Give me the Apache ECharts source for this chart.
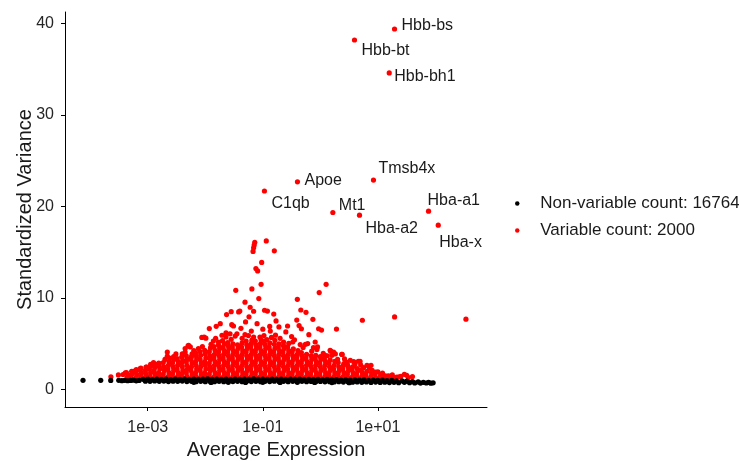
<!DOCTYPE html>
<html><head><meta charset="utf-8">
<script src="https://cdn.jsdelivr.net/npm/echarts@6/dist/echarts.min.js"></script>
<style>html,body{margin:0;padding:0;background:#fff}#c{width:739px;height:461px}</style>
</head><body><div id="c"></div>
<script>
// x values are log10(Average Expression); y values are Standardized Variance
const xTickValues = [-3, -1, 1];
const xTickLabels = ['1e-03', '1e-01', '1e+01'];
const yTickValues = [0, 10, 20, 30, 40];
const nonVariableCount = 16764;
const variableCount = 2000;

const labeledGenes = ['Hbb-bs', 'Hbb-bt', 'Hbb-bh1', 'Tmsb4x', 'Apoe', 'C1qb', 'Mt1', 'Hba-a2', 'Hba-a1', 'Hba-x'];
const labeledLog10Expr = [1.289, 0.593, 1.197, 0.923, -0.398, -0.972, 0.217, 0.680, 1.880, 2.049];
const labeledStdVar = [39.4, 38.2, 34.6, 22.9, 22.7, 21.7, 19.35, 19.06, 19.5, 17.97];

const variableOutliers = [
[-1.14,16.1],[-1.15,15.8],[-1.16,15.5],[-1.17,15.1],[-0.94,16.25],[-0.80,15.16],[-1.02,13.9],[-1.12,13.23],[-1.09,12.97],
[0.10,11.5],[-0.02,10.6],[-1.47,10.85],[-1.19,11.0],[-1.03,11.5],[-1.07,9.95],[-0.40,9.87],[-1.31,9.55],[-1.22,9.0],
[-1.55,8.52],[-1.42,8.49],[-1.40,8.58],[-0.97,8.67],[-0.92,8.58],[-1.16,8.56],[-0.34,8.7],[-0.25,8.45],[-1.24,7.95],[-1.63,8.2],
[-1.54,7.1],[-1.51,6.95],[-1.74,7.2],[-0.81,8.25],[-0.77,7.5],[-0.72,6.85],[-0.88,6.9],[-0.87,6.4],[-0.57,6.95],[-0.41,7.6],
[-0.37,7.0],[-0.33,6.65],[-0.13,7.68],[-0.03,6.65],[0.02,6.5],[0.28,6.62],[0.73,7.58],[1.29,7.94],[2.53,7.7],
[-1.93,6.67],[-1.81,6.92],[-2.02,5.75],[-2.06,5.7],[-1.99,5.62],[-2.30,4.77],[-2.26,4.66],[-2.66,4.1],[-2.66,3.65],[-2.51,3.9],
[-2.80,2.85],[-2.95,2.75],[0.26,3.9],[0.38,3.85],[0.18,4.2],[0.23,4.1],[0.66,3.1],[0.81,2.65],[0.88,2.65],
[1.46,1.67],[1.50,1.56],[1.18,1.5],[1.13,1.5]
];

const variableFringe = [
[-1.64,5.75],[-1.57,6.1],[-1.45,6.1],[-1.31,6.0],[-1.16,5.75],[-1.05,5.75],[-0.93,5.47],[-0.79,5.39],[-0.64,5.2],[-0.48,5.2],
[-0.35,4.92],[-0.22,5.03],[-0.09,5.2],[-1.71,5.94],[-1.64,6.19],[-1.86,5.3],[-1.77,5.2],[-2.29,4.84],[-2.35,4.48],[-2.12,4.48],
[-3.39,1.82],[-3.25,2.0],[-3.13,2.3],[-3.02,2.47],[-0.05,4.66],[-0.06,4.37],[0.17,4.3],[0.37,3.86],[0.08,3.75],
[0.52,3.2],[0.69,3.1],[0.96,1.92],[1.10,1.45],[1.33,1.38],[1.53,1.31],[-1.36,5.6],[-1.25,5.9],[-0.98,5.9],[-0.85,5.7],
[-0.70,5.6],[-0.55,5.05],[-0.30,4.6],[-0.15,4.2],[0.05,3.95],[0.12,3.7],[0.30,3.3],[0.45,3.0],[0.60,2.75],[0.75,2.4],
[0.90,2.1],[1.00,1.95],[1.25,1.6],[1.40,1.45],[1.60,1.42],[-2.90,2.95],[-2.70,3.3],[-2.55,3.6],[-2.40,3.9],[-2.20,4.25],
[-1.90,4.95],[-1.70,5.35],[-1.55,5.5],[-1.38,6.7],[-1.20,6.4],[-1.00,6.6],[-0.60,6.3],[-0.50,5.8],[-1.10,7.2],[-0.20,6.0],[-1.30,7.4],
[-2.62,3.45],[-2.35,4.1],[-2.05,4.7],[-1.82,5.6],[-1.48,5.85],[-0.78,5.95],[-0.45,5.45],[-0.26,4.95],[-0.12,4.6],[0.2,3.75],
[0.42,3.35],[0.58,3.05],[0.7,2.7],[0.85,2.35],[1.08,1.8]
];

const variableDense = [
[-3.64,1.4],[-3.51,1.6],[-3.43,1.65],
[-3.36,1.3],[-3.34,1.6],[-3.37,1.85],[-3.29,1.35],[-3.27,1.7],[-3.28,2.0],
[-3.2,1.3],[-3.19,1.65],[-3.21,1.95],[-3.2,2.2],[-3.12,1.4],[-3.11,1.8],[-3.13,2.1],[-3.12,2.35],
[-3.05,1.3],[-3.03,1.7],[-3.04,2.1],[-3.03,2.45],[-2.96,1.45],[-2.95,1.85],[-2.97,2.25],[-2.95,2.6],
[-2.88,1.3],[-2.87,1.7],[-2.89,2.05],[-2.88,2.4],[-2.87,2.75],[-2.8,1.45],[-2.81,1.85],[-2.79,2.25],[-2.8,2.55],[-2.81,2.9],
[-2.72,1.3],[-2.73,1.7],[-2.71,2.1],[-2.72,2.5],[-2.73,2.95],[-2.64,1.45],[-2.63,1.85],[-2.65,2.25],[-2.64,2.65],[-2.63,3.05],
[-2.56,1.3],[-2.57,1.7],[-2.55,2.1],[-2.56,2.5],[-2.57,2.9],[-2.55,3.25],
[-2.48,1.45],[-2.47,1.85],[-2.49,2.25],[-2.48,2.65],[-2.47,3.05],[-2.49,3.4],
[-2.4,1.3],[-2.41,1.7],[-2.39,2.1],[-2.4,2.5],[-2.41,2.9],[-2.39,3.2],[-2.41,3.55],
[-2.32,1.45],[-2.33,1.85],[-2.31,2.25],[-2.32,2.65],[-2.33,3.05],[-2.31,3.35],[-2.33,3.7],
[-2.24,1.3],[-2.23,1.7],[-2.25,2.1],[-2.24,2.5],[-2.23,2.9],[-2.25,3.3],[-2.24,3.6],[-2.23,3.9],
[-2.16,1.45],[-2.17,1.85],[-2.15,2.25],[-2.16,2.65],[-2.17,3.05],[-2.15,3.45],[-2.16,3.75],[-2.17,4.05],
[-2.08,1.3],[-2.07,1.7],[-2.09,2.1],[-2.08,2.5],[-2.07,2.9],[-2.09,3.3],[-2.08,3.75],[-2.09,4.15],
[-2,1.45],[-2.01,1.85],[-1.99,2.25],[-2,2.65],[-2.01,3.05],[-1.99,3.45],[-2,3.9],[-2.01,4.3],
[-1.92,1.3],[-1.93,1.7],[-1.91,2.1],[-1.92,2.5],[-1.93,2.9],[-1.91,3.3],[-1.92,3.7],[-1.93,4.15],[-1.91,4.55],
[-1.84,1.45],[-1.83,1.85],[-1.85,2.25],[-1.84,2.65],[-1.83,3.05],[-1.85,3.45],[-1.84,3.85],[-1.83,4.3],[-1.85,4.7],
[-1.76,1.3],[-1.77,1.7],[-1.75,2.1],[-1.76,2.5],[-1.77,2.9],[-1.75,3.3],[-1.76,3.7],[-1.77,4.1],[-1.75,4.5],[-1.77,4.85],
[-1.68,1.45],[-1.67,1.85],[-1.69,2.25],[-1.68,2.65],[-1.67,3.05],[-1.69,3.45],[-1.68,3.85],[-1.67,4.25],[-1.69,4.65],[-1.67,5.0],
[-1.6,1.3],[-1.61,1.7],[-1.59,2.1],[-1.6,2.5],[-1.61,2.9],[-1.59,3.3],[-1.6,3.7],[-1.61,4.1],[-1.59,4.5],[-1.6,4.8],[-1.61,5.15],
[-1.52,1.45],[-1.51,1.85],[-1.53,2.25],[-1.52,2.65],[-1.51,3.05],[-1.53,3.45],[-1.52,3.85],[-1.51,4.25],[-1.53,4.65],[-1.52,5.0],
[-1.44,1.3],[-1.45,1.7],[-1.43,2.1],[-1.44,2.5],[-1.45,2.9],[-1.43,3.3],[-1.44,3.7],[-1.45,4.1],[-1.43,4.5],[-1.44,4.9],
[-1.36,1.45],[-1.35,1.85],[-1.37,2.25],[-1.36,2.65],[-1.35,3.05],[-1.37,3.45],[-1.36,3.85],[-1.35,4.25],[-1.37,4.65],[-1.36,5.1],
[-1.28,1.3],[-1.29,1.7],[-1.27,2.1],[-1.28,2.5],[-1.29,2.9],[-1.27,3.3],[-1.28,3.7],[-1.29,4.1],[-1.27,4.5],[-1.28,4.9],[-1.29,5.3],
[-1.2,1.45],[-1.19,1.85],[-1.21,2.25],[-1.2,2.65],[-1.19,3.05],[-1.21,3.45],[-1.2,3.85],[-1.19,4.25],[-1.21,4.65],[-1.2,5.05],[-1.19,5.4],
[-1.12,1.3],[-1.13,1.7],[-1.11,2.1],[-1.12,2.5],[-1.13,2.9],[-1.11,3.3],[-1.12,3.7],[-1.13,4.1],[-1.11,4.5],[-1.12,4.9],[-1.13,5.3],
[-1.04,1.45],[-1.03,1.85],[-1.05,2.25],[-1.04,2.65],[-1.03,3.05],[-1.05,3.45],[-1.04,3.85],[-1.03,4.25],[-1.05,4.65],[-1.04,5.05],[-1.03,5.45],
[-0.96,1.3],[-0.97,1.7],[-0.95,2.1],[-0.96,2.5],[-0.97,2.9],[-0.95,3.3],[-0.96,3.7],[-0.97,4.1],[-0.95,4.5],[-0.96,4.9],[-0.97,5.3],
[-0.88,1.45],[-0.87,1.85],[-0.89,2.25],[-0.88,2.65],[-0.87,3.05],[-0.89,3.45],[-0.88,3.85],[-0.87,4.25],[-0.89,4.65],[-0.88,5.1],
[-0.8,1.3],[-0.81,1.7],[-0.79,2.1],[-0.8,2.5],[-0.81,2.9],[-0.79,3.3],[-0.8,3.7],[-0.81,4.1],[-0.79,4.5],[-0.8,4.95],
[-0.72,1.45],[-0.71,1.85],[-0.73,2.25],[-0.72,2.65],[-0.71,3.05],[-0.73,3.45],[-0.72,3.85],[-0.71,4.25],[-0.73,4.65],[-0.72,5.0],
[-0.64,1.3],[-0.65,1.7],[-0.63,2.1],[-0.64,2.5],[-0.65,2.9],[-0.63,3.3],[-0.64,3.7],[-0.65,4.1],[-0.63,4.5],[-0.64,4.8],
[-0.56,1.45],[-0.55,1.85],[-0.57,2.25],[-0.56,2.65],[-0.55,3.05],[-0.57,3.45],[-0.56,3.85],[-0.55,4.25],[-0.57,4.65],
[-0.48,1.3],[-0.49,1.7],[-0.47,2.1],[-0.48,2.5],[-0.49,2.9],[-0.47,3.3],[-0.48,3.7],[-0.49,4.1],[-0.47,4.45],
[-0.4,1.45],[-0.39,1.85],[-0.41,2.25],[-0.4,2.65],[-0.39,3.05],[-0.41,3.45],[-0.4,3.85],[-0.39,4.25],
[-0.32,1.3],[-0.33,1.7],[-0.31,2.1],[-0.32,2.5],[-0.33,2.9],[-0.31,3.3],[-0.32,3.7],[-0.33,4.05],
[-0.24,1.45],[-0.23,1.85],[-0.25,2.25],[-0.24,2.65],[-0.23,3.05],[-0.25,3.45],[-0.24,3.85],
[-0.16,1.3],[-0.17,1.7],[-0.15,2.1],[-0.16,2.5],[-0.17,2.9],[-0.15,3.3],[-0.16,3.7],
[-0.08,1.45],[-0.07,1.85],[-0.09,2.25],[-0.08,2.65],[-0.07,3.05],[-0.09,3.45],[-0.08,3.75],
[0,1.3],[-0.01,1.7],[0.01,2.1],[0,2.5],[-0.01,2.9],[0.01,3.3],[0,3.6],
[0.08,1.45],[0.09,1.85],[0.07,2.25],[0.08,2.65],[0.09,3.05],[0.07,3.4],
[0.16,1.3],[0.15,1.7],[0.17,2.1],[0.16,2.5],[0.15,2.9],[0.17,3.25],
[0.24,1.45],[0.25,1.85],[0.23,2.25],[0.24,2.65],[0.25,3.1],
[0.32,1.3],[0.31,1.7],[0.33,2.1],[0.32,2.5],[0.31,2.95],
[0.4,1.45],[0.41,1.85],[0.39,2.25],[0.4,2.65],[0.41,2.85],
[0.48,1.3],[0.47,1.7],[0.49,2.1],[0.48,2.5],[0.47,2.75],
[0.56,1.45],[0.57,1.85],[0.55,2.25],[0.56,2.5],
[0.64,1.3],[0.63,1.7],[0.65,2.05],[0.64,2.3],
[0.72,1.45],[0.73,1.85],[0.71,2.15],
[0.8,1.3],[0.79,1.65],[0.81,2.0],
[0.88,1.45],[0.89,1.85],[0.96,1.3],[0.95,1.7],
[1.04,1.45],[1.05,1.65],[1.12,1.3],[1.2,1.45],[1.28,1.3],[1.37,1.4]
];

const nonVariablePoints = [
[-4.125,1.02],[-3.817,1.02],[-3.643,1.0],[-3.504,1.02],[-3.45,0.98],[-3.4,1.02],[-3.35,0.97],[-3.3,1.0],[-3.25,1.03],[-3.2,0.96],[-3.15,1.0],
[-3.08,1.12],[-3.0,1.14],[-2.92,1.1],[-2.84,1.15],[-2.76,1.12],[-2.68,1.14],[-2.6,1.1],[-2.52,1.16],[-2.44,1.13],[-2.36,1.15],
[-2.28,1.1],[-2.2,1.16],[-2.12,1.12],[-2.04,1.14],[-1.96,1.17],[-1.88,1.11],[-1.8,1.15],[-1.72,1.13],[-1.64,1.16],[-1.56,1.1],
[-1.48,1.15],[-1.4,1.12],[-1.32,1.16],[-1.24,1.13],[-1.16,1.17],[-1.08,1.11],[-1.0,1.15],[-0.92,1.13],[-0.84,1.16],[-0.76,1.12],
[-0.68,1.15],[-0.6,1.1],[-0.52,1.14],[-0.44,1.12],[-0.36,1.15],[-0.28,1.1],[-0.2,1.13],[-0.12,1.09],[-0.04,1.12],[0.04,1.08],
[0.12,1.11],[0.2,1.06],[0.28,1.1],[0.36,1.05],[0.44,1.08],[0.52,1.04],[0.6,1.07],[0.68,1.03],[0.76,1.06],[0.84,1.02],
[0.92,1.05],[1.0,1.0],[1.08,1.03],[1.16,0.98],[1.24,1.01],[1.32,0.97],
[-3.04,0.92],[-2.96,0.9],[-2.88,0.94],[-2.8,0.9],[-2.72,0.93],[-2.64,0.88],[-2.56,0.92],[-2.48,0.9],[-2.4,0.93],[-2.32,0.88],
[-2.24,0.91],[-2.16,0.87],[-2.08,0.9],[-2.0,0.87],[-1.92,0.92],[-1.84,0.86],[-1.76,0.9],[-1.68,0.86],[-1.6,0.91],[-1.52,0.88],
[-1.44,0.9],[-1.36,0.86],[-1.28,0.92],[-1.2,0.88],[-1.12,0.91],[-1.04,0.87],[-0.96,0.9],[-0.88,0.88],[-0.8,0.92],[-0.72,0.88],
[-0.64,0.91],[-0.56,0.87],[-0.48,0.9],[-0.4,0.88],[-0.32,0.91],[-0.24,0.86],[-0.16,0.89],[-0.08,0.86],[0.0,0.89],[0.08,0.85],
[0.16,0.87],[0.24,0.83],[0.32,0.86],[0.4,0.82],[0.48,0.85],[0.56,0.81],[0.64,0.84],[0.72,0.8],[0.8,0.83],[0.88,0.79],
[0.96,0.82],[1.04,0.78],[1.12,0.81],[1.2,0.77],[1.28,0.8],[1.36,0.76],
[-2.2,0.8],[-1.9,0.78],[-1.6,0.8],[-1.3,0.78],[-1.0,0.8],[-0.7,0.79],[-0.4,0.8],[-0.1,0.78],[0.2,0.77],[0.5,0.75],
[1.42,0.95],[1.46,0.8],[1.5,0.92],[1.55,0.76],[1.6,0.88],[1.64,0.73],[1.7,0.84],[1.74,0.71],[1.79,0.8],[1.84,0.72],[1.88,0.8],[1.92,0.7],[1.96,0.74]
];

// label placement (style only)
const labelOffsets = {
  'Hbb-bs': [7, -3], 'Hbb-bt': [7, 11], 'Hbb-bh1': [5, 4], 'Tmsb4x': [5, -11], 'Apoe': [7, -1],
  'C1qb': [7, 13], 'Mt1': [6, -7], 'Hba-a2': [6, 13], 'Hba-a1': [-1, -11], 'Hba-x': [1, 17]
};

const FONT = "'Liberation Sans', Arial, sans-serif";
const TEXT = '#1a1a1a';
const nonVarName = 'Non-variable count: ' + nonVariableCount;
const varName = 'Variable count: ' + variableCount;

const labeledData = labeledGenes.map((g, i) => ({
  name: g,
  value: [labeledLog10Expr[i], labeledStdVar[i]],
  label: {
    show: true, formatter: g, position: 'inside', align: 'left', verticalAlign: 'middle',
    offset: labelOffsets[g], color: TEXT, fontSize: 16, fontFamily: FONT
  }
}));

const chart = echarts.init(document.getElementById('c'), null, {renderer: 'canvas'});
const symSize = 5.2;
chart.setOption({
  animation: false,
  backgroundColor: '#ffffff',
  grid: {left: 65, right: 252, top: 12, bottom: 54, containLabel: false, outerBoundsMode: 'none'},
  legend: {
    orient: 'vertical', left: 515, top: 195, padding: 0, icon: 'circle',
    itemWidth: 36, itemHeight: 4.5, itemGap: 10,
    data: [nonVarName, varName],
    textStyle: {fontSize: 17, color: TEXT, fontFamily: FONT},
    selectedMode: false
  },
  xAxis: {
    type: 'value', min: -4.438, max: 2.896,
    name: 'Average Expression', nameLocation: 'middle', nameGap: 33, nameMoveOverlap: false,
    nameTextStyle: {fontSize: 20, color: TEXT, fontFamily: FONT},
    axisLine: {show: true, onZero: false, lineStyle: {color: '#000', width: 1}},
    axisTick: {show: true, length: 4, lineStyle: {color: '#000'}, customValues: xTickValues},
    axisLabel: {
      customValues: xTickValues, margin: 13, fontSize: 16, color: '#262626', fontFamily: FONT,
      formatter: v => xTickLabels[xTickValues.indexOf(v)]
    },
    splitLine: {show: false}
  },
  yAxis: {
    type: 'value', min: -1.9, max: 41.26,
    name: 'Standardized Variance', nameLocation: 'middle', nameGap: 30, nameMoveOverlap: false,
    nameTextStyle: {fontSize: 20, color: TEXT, fontFamily: FONT},
    axisLine: {show: true, onZero: false, lineStyle: {color: '#000', width: 1}},
    axisTick: {show: true, length: 4, lineStyle: {color: '#000'}, customValues: yTickValues},
    axisLabel: {customValues: yTickValues, margin: 11, fontSize: 16, color: '#262626', fontFamily: FONT},
    splitLine: {show: false}
  },
  series: [
    {name: varName, type: 'scatter', symbolSize: symSize, itemStyle: {color: '#ff0000', opacity: 1}, silent: true,
     data: variableDense.concat(variableFringe, variableOutliers)},
    {name: nonVarName, type: 'scatter', symbolSize: symSize, itemStyle: {color: '#000000', opacity: 1}, silent: true,
     data: nonVariablePoints},
    {name: varName, type: 'scatter', symbolSize: symSize, itemStyle: {color: '#ff0000', opacity: 1}, silent: true,
     data: labeledData, z: 5}
  ]
});
</script>
</body></html>
